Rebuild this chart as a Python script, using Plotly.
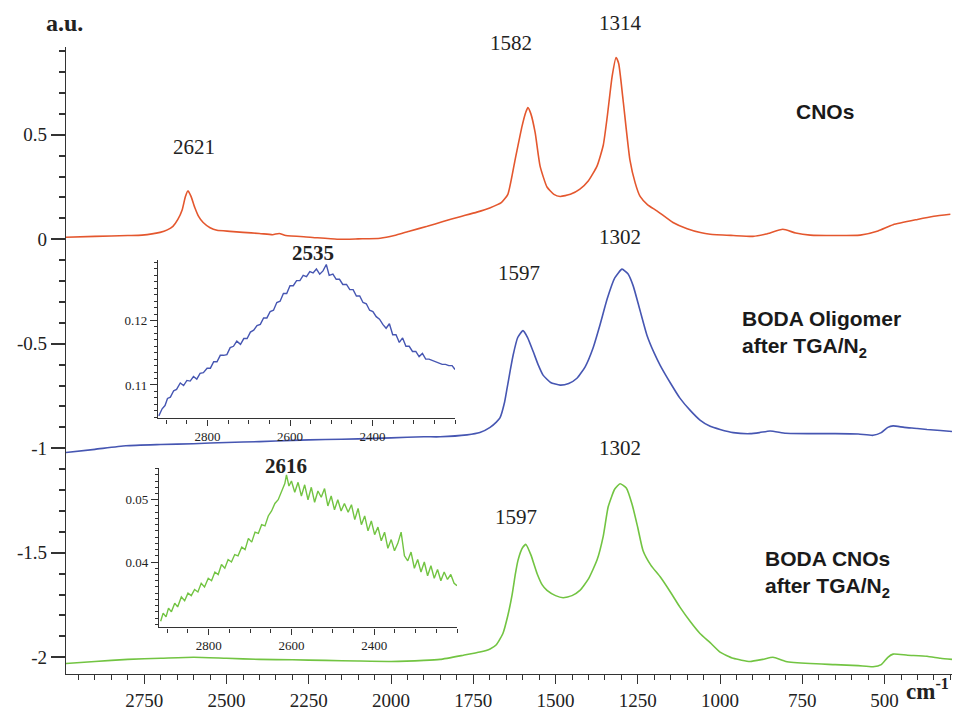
import plotly.graph_objects as go

# ---------------- data ----------------
red_x = [2988, 2900, 2800, 2757, 2702, 2680, 2663, 2648, 2635, 2625, 2617, 2608, 2596, 2585, 2571,
         2550, 2529, 2490, 2450, 2400, 2360, 2340, 2320, 2246, 2164, 2100, 2033, 1990, 1942, 1890,
         1842, 1790, 1739, 1700, 1665, 1645, 1623, 1602, 1590, 1584, 1575, 1562, 1547, 1526, 1505,
         1486, 1455, 1426, 1400, 1374, 1355, 1343, 1328, 1316, 1308, 1295, 1274, 1258, 1243, 1220,
         1191, 1143, 1100, 1060, 1030, 960, 900, 860, 809, 770, 726, 650, 574, 520, 474, 400, 350, 300]
red_y = [0.010, 0.014, 0.018, 0.020, 0.033, 0.045, 0.062, 0.095, 0.140, 0.205, 0.232, 0.205, 0.150, 0.110, 0.080,
         0.055, 0.043, 0.038, 0.033, 0.028, 0.022, 0.028, 0.018, 0.010, 0.000, 0.002, 0.005, 0.018, 0.040, 0.062,
         0.085, 0.108, 0.130, 0.150, 0.175, 0.215, 0.380, 0.540, 0.610, 0.630, 0.600, 0.510, 0.350, 0.250, 0.215,
         0.205, 0.215, 0.240, 0.280, 0.350, 0.450, 0.585, 0.780, 0.870, 0.840, 0.670, 0.380, 0.270, 0.205, 0.165,
         0.135, 0.080, 0.050, 0.032, 0.024, 0.018, 0.014, 0.025, 0.048, 0.030, 0.020, 0.018, 0.020, 0.040, 0.070, 0.095, 0.110, 0.120]

blue_x = [2988, 2900, 2806, 2700, 2600, 2500, 2400, 2300, 2200, 2100, 2000, 1900, 1851, 1769, 1730,
          1699, 1680, 1669, 1655, 1647, 1638, 1629, 1615, 1599, 1585, 1568, 1553, 1538, 1515, 1486,
          1460, 1435, 1410, 1386, 1365, 1343, 1320, 1298, 1280, 1264, 1245, 1222, 1200, 1182, 1150,
          1122, 1090, 1061, 1030, 1000, 960, 909, 880, 848, 800, 726, 650, 580, 535, 510, 490, 474,
          440, 400, 371, 330, 295]
blue_y = [-1.020, -1.005, -0.988, -0.982, -0.978, -0.972, -0.968, -0.962, -0.958, -0.955, -0.950, -0.945, -0.945, -0.936, -0.925,
          -0.900, -0.875, -0.855, -0.780, -0.710, -0.630, -0.555, -0.470, -0.437, -0.470, -0.537, -0.600, -0.650, -0.685, -0.698,
          -0.690, -0.665, -0.610, -0.520, -0.410, -0.285, -0.185, -0.143, -0.165, -0.223, -0.330, -0.460, -0.545, -0.603, -0.690,
          -0.760, -0.820, -0.865, -0.895, -0.910, -0.925, -0.930, -0.925, -0.917, -0.928, -0.930, -0.930, -0.932, -0.938, -0.925, -0.900, -0.893,
          -0.900, -0.905, -0.910, -0.915, -0.920]

green_x = [2988, 2900, 2800, 2700, 2600, 2500, 2400, 2300, 2200, 2100, 2000, 1900, 1851, 1780, 1730,
           1699, 1680, 1660, 1645, 1632, 1622, 1614, 1600, 1590, 1575, 1556, 1540, 1526, 1500, 1477,
           1450, 1426, 1400, 1374, 1355, 1340, 1320, 1304, 1285, 1267, 1250, 1234, 1210, 1182, 1150,
           1122, 1090, 1061, 1030, 1000, 960, 909, 870, 839, 800, 726, 650, 580, 535, 510, 490, 474,
           430, 371, 330, 295]
green_y = [-2.030, -2.020, -2.010, -2.005, -2.000, -2.005, -2.010, -2.012, -2.015, -2.018, -2.020, -2.015, -2.010, -1.990, -1.975,
           -1.960, -1.940, -1.886, -1.800, -1.700, -1.600, -1.535, -1.475, -1.460, -1.510, -1.600, -1.655, -1.680, -1.705, -1.715,
           -1.705, -1.680, -1.625, -1.535, -1.420, -1.280, -1.195, -1.170, -1.190, -1.270, -1.380, -1.490, -1.560, -1.615, -1.690,
           -1.760, -1.830, -1.886, -1.930, -1.975, -2.005, -2.020, -2.010, -2.000, -2.020, -2.030, -2.035, -2.040, -2.045, -2.035, -2.000, -1.985,
           -1.990, -1.995, -2.005, -2.010]

inset1_x = [2918, 2910, 2903, 2897, 2890, 2882, 2875, 2866, 2858, 2850, 2842, 2834, 2826, 2818, 2810,
            2801, 2793, 2785, 2777, 2769, 2761, 2753, 2745, 2737, 2729, 2720, 2712, 2704, 2696, 2688,
            2680, 2672, 2664, 2656, 2648, 2640, 2632, 2624, 2616, 2608, 2600, 2592, 2584, 2576, 2568,
            2560, 2552, 2544, 2536, 2528, 2520, 2512, 2505, 2496, 2488, 2480, 2472, 2463, 2455, 2447,
            2439, 2431, 2423, 2415, 2407, 2399, 2391, 2383, 2375, 2367, 2359, 2351, 2343, 2335, 2327,
            2319, 2311, 2303, 2295, 2287, 2279, 2271, 2263, 2255, 2247, 2239, 2231, 2223, 2215, 2207, 2200]
inset1_y = [0.1052, 0.1063, 0.1068, 0.1079, 0.1081, 0.1091, 0.1093, 0.1103, 0.1099, 0.1107, 0.1106, 0.1113, 0.1109, 0.1118, 0.1119,
            0.1126, 0.1126, 0.1136, 0.1136, 0.1146, 0.1146, 0.1147, 0.1158, 0.1160, 0.1168, 0.1163, 0.1172, 0.1172, 0.1182, 0.1185,
            0.1192, 0.1194, 0.1204, 0.1204, 0.1214, 0.1216, 0.1228, 0.1230, 0.1242, 0.1242, 0.1254, 0.1254, 0.1262, 0.1262, 0.1270,
            0.1268, 0.1276, 0.1274, 0.1280, 0.1272, 0.1277, 0.1287, 0.1270, 0.1272, 0.1264, 0.1264, 0.1256, 0.1256, 0.1248, 0.1248,
            0.1238, 0.1238, 0.1228, 0.1226, 0.1216, 0.1214, 0.1206, 0.1202, 0.1194, 0.1188, 0.1195, 0.1178, 0.1178, 0.1166, 0.1173,
            0.1160, 0.1160, 0.1152, 0.1152, 0.1144, 0.1149, 0.1140, 0.1140, 0.1138, 0.1136, 0.1134, 0.1132, 0.1132, 0.1130, 0.1130, 0.1124]

inset2_x = [2916, 2910, 2903, 2897, 2890, 2882, 2875, 2866, 2858, 2850, 2842, 2834, 2826, 2818, 2810,
            2801, 2793, 2785, 2777, 2769, 2761, 2753, 2745, 2737, 2729, 2720, 2712, 2704, 2696, 2688,
            2680, 2672, 2664, 2656, 2648, 2640, 2632, 2624, 2616, 2612, 2606, 2600, 2592, 2584, 2576,
            2568, 2560, 2552, 2544, 2536, 2528, 2520, 2512, 2504, 2496, 2488, 2480, 2472, 2463, 2455,
            2447, 2439, 2431, 2423, 2415, 2407, 2399, 2391, 2383, 2375, 2367, 2359, 2351, 2343, 2335,
            2327, 2319, 2311, 2303, 2295, 2287, 2279, 2271, 2263, 2255, 2247, 2239, 2231, 2223, 2215, 2207, 2200]
inset2_y = [0.0305, 0.0318, 0.0312, 0.0326, 0.0320, 0.0334, 0.0328, 0.0344, 0.0338, 0.0350, 0.0346, 0.0356, 0.0352, 0.0366, 0.0360,
            0.0374, 0.0370, 0.0384, 0.0380, 0.0396, 0.0390, 0.0404, 0.0400, 0.0412, 0.0410, 0.0424, 0.0420, 0.0438, 0.0432, 0.0448,
            0.0446, 0.0460, 0.0458, 0.0474, 0.0482, 0.0494, 0.0500, 0.0514, 0.0526, 0.0540, 0.0522, 0.0530, 0.0512, 0.0528, 0.0506,
            0.0524, 0.0500, 0.0520, 0.0496, 0.0514, 0.0504, 0.0518, 0.0490, 0.0506, 0.0484, 0.0500, 0.0482, 0.0494, 0.0480, 0.0492,
            0.0468, 0.0486, 0.0460, 0.0474, 0.0450, 0.0466, 0.0444, 0.0456, 0.0434, 0.0448, 0.0422, 0.0436, 0.0418, 0.0430, 0.0448,
            0.0410, 0.0402, 0.0416, 0.0390, 0.0404, 0.0384, 0.0400, 0.0378, 0.0394, 0.0374, 0.0388, 0.0370, 0.0384, 0.0372, 0.0380, 0.0366, 0.0362]

main_x_ticks = [2750, 2500, 2250, 2000, 1750, 1500, 1250, 1000, 750, 500]
main_y_tick_vals = [0.5, 0, -0.5, -1, -1.5, -2]
main_y_tick_text = ["0.5", "0", "-0.5", "-1", "-1.5", "-2"]
inset_x_ticks = [2800, 2600, 2400]
inset1_y_ticks = [0.11, 0.12]
inset2_y_ticks = [0.04, 0.05]

peak_labels = [  # text, x (cm-1), y (a.u.)
    ("2621", 2599, 0.44), ("1582", 1635, 0.94), ("1314", 1304, 1.035),
    ("1597", 1611, -0.16), ("1302", 1304, 0.01),
    ("1597", 1620, -1.33), ("1302", 1304, -1.0),
]

RED = "#e4572e"
BLUE = "#4656b2"
GREEN = "#72c442"
AX = "#333333"
SERIF = "Liberation Serif, Times New Roman, serif"
SANS = "Liberation Sans, Arial, sans-serif"

fig = go.Figure()
fig.add_trace(go.Scatter(x=red_x, y=red_y, mode="lines", line=dict(color=RED, width=1.6, shape="spline", smoothing=0.5), xaxis="x", yaxis="y"))
fig.add_trace(go.Scatter(x=blue_x, y=blue_y, mode="lines", line=dict(color=BLUE, width=1.6, shape="spline", smoothing=0.5), xaxis="x", yaxis="y"))
fig.add_trace(go.Scatter(x=green_x, y=green_y, mode="lines", line=dict(color=GREEN, width=1.6, shape="spline", smoothing=0.5), xaxis="x", yaxis="y"))
fig.add_trace(go.Scatter(x=inset1_x, y=inset1_y, mode="lines", line=dict(color=BLUE, width=1.4), xaxis="x2", yaxis="y2"))
fig.add_trace(go.Scatter(x=inset2_x, y=inset2_y, mode="lines", line=dict(color=GREEN, width=1.4), xaxis="x3", yaxis="y3"))

W, H = 956, 715
L, R, T, B = 66, 4, 47, 35
pw, ph = W - L - R, H - T - B

Y0, Y1 = -2.08, 0.92


def px_x(p):
    return (p - L) / pw


def px_y(p):
    return (H - B - p) / ph


def val_to_paper(v, lo, hi, d0, d1):
    return d0 + (v - lo) / (hi - lo) * (d1 - d0)


axis_common = dict(showline=True, linecolor=AX, linewidth=1.3, ticks="outside", tickcolor=AX,
                   showgrid=False, zeroline=False)

in1_dom = [px_y(422), px_y(262)]
in1_rng = [0.1048, 0.1294]
in2_dom = [px_y(633), px_y(472)]
in2_rng = [0.0295, 0.0551]

fig.update_layout(
    width=W, height=H, showlegend=False,
    paper_bgcolor="white", plot_bgcolor="white",
    margin=dict(l=L, r=R, t=T, b=B),
    xaxis=dict(**axis_common, domain=[0, 1], range=[2988, 295], tickmode="array", tickvals=main_x_ticks,
               ticklen=9, tickwidth=1.3, tickfont=dict(family=SERIF, size=19, color="#222"),
               minor=dict(tickmode="linear", tick0=0, dtick=50, ticklen=5, tickcolor=AX, ticks="outside"),
               anchor="y"),
    yaxis=dict(**axis_common, domain=[0, 1], range=[Y0, Y1], tickmode="array", tickvals=main_y_tick_vals,
               ticktext=main_y_tick_text, ticklen=14, tickwidth=1.6,
               tickfont=dict(family=SERIF, size=19, color="#222"),
               minor=dict(tickmode="linear", tick0=0, dtick=0.1, ticklen=6, tickcolor=AX, ticks="outside"),
               anchor="x"),
    xaxis2=dict(**axis_common, domain=[px_x(158), px_x(455)], range=[2920, 2200], tickmode="array",
                tickvals=inset_x_ticks, ticklen=6, tickwidth=1,
                tickfont=dict(family=SERIF, size=13, color="#222"),
                minor=dict(tickmode="linear", tick0=0, dtick=50, ticklen=4, tickcolor=AX, ticks="outside"),
                anchor="y2"),
    yaxis2=dict(**axis_common, domain=in1_dom, range=in1_rng, tickmode="array",
                tickvals=inset1_y_ticks, ticklen=7, tickwidth=1,
                tickfont=dict(family=SERIF, size=13, color="#222"),
                minor=dict(tickmode="linear", tick0=0, dtick=0.001, ticklen=3, tickcolor=AX, ticks="outside"),
                anchor="x2"),
    xaxis3=dict(**axis_common, domain=[px_x(159), px_x(457)], range=[2920, 2200], tickmode="array",
                tickvals=inset_x_ticks, ticklen=6, tickwidth=1,
                tickfont=dict(family=SERIF, size=13, color="#222"),
                minor=dict(tickmode="linear", tick0=0, dtick=50, ticklen=4, tickcolor=AX, ticks="outside"),
                anchor="y3"),
    yaxis3=dict(**axis_common, domain=in2_dom, range=in2_rng, tickmode="array",
                tickvals=inset2_y_ticks, ticklen=7, tickwidth=1,
                tickfont=dict(family=SERIF, size=13, color="#222"),
                minor=dict(tickmode="linear", tick0=0, dtick=0.001, ticklen=3, tickcolor=AX, ticks="outside"),
                anchor="x3"),
)

ann = []
for text, x, y in peak_labels:
    ann.append(dict(text=text, x=x, y=val_to_paper(y, Y0, Y1, 0, 1), xref="x", yref="paper",
                    xanchor="center", yanchor="middle", showarrow=False,
                    font=dict(family=SERIF, size=21, color="#222")))
ann.append(dict(text="<b>2535</b>", x=2544, y=val_to_paper(0.1305, in1_rng[0], in1_rng[1], *in1_dom),
                xref="x2", yref="paper", xanchor="center", yanchor="middle", showarrow=False,
                font=dict(family=SERIF, size=21, color="#222")))
ann.append(dict(text="<b>2616</b>", x=2612, y=val_to_paper(0.0554, in2_rng[0], in2_rng[1], *in2_dom),
                xref="x3", yref="paper", xanchor="center", yanchor="middle", showarrow=False,
                font=dict(family=SERIF, size=21, color="#222")))
lab_font = dict(family=SANS, size=21, color="#1a1a1a")
ann.append(dict(text="<b>CNOs</b>", x=681, y=0.61, xref="x", yref="y", showarrow=False,
                xanchor="center", yanchor="middle", font=lab_font))
ann.append(dict(text="<b>BODA Oligomer</b><br><b>after TGA/N<sub>2</sub></b>", x=939, y=-0.455, xref="x", yref="y",
                showarrow=False, xanchor="left", yanchor="middle", align="left", font=lab_font))
ann.append(dict(text="<b>BODA CNOs</b><br><b>after TGA/N<sub>2</sub></b>", x=869, y=-1.6, xref="x", yref="y",
                showarrow=False, xanchor="left", yanchor="middle", align="left", font=lab_font))
ann.append(dict(text="<b>a.u.</b>", x=px_x(64), y=px_y(23), xref="paper", yref="paper", showarrow=False,
                xanchor="center", yanchor="middle", font=dict(family=SERIF, size=24, color="#222")))
ann.append(dict(text="<b>cm<sup>-1</sup></b>", x=px_x(951), y=px_y(696), xref="paper", yref="paper",
                showarrow=False, xanchor="right", yanchor="middle",
                font=dict(family=SERIF, size=23, color="#222")))
fig.update_layout(annotations=ann)

fig.write_html("out.html")
